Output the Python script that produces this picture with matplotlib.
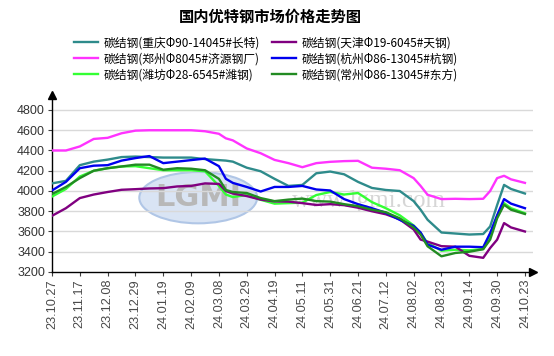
import matplotlib.pyplot as plt
from matplotlib.patches import Ellipse

plt.rcParams['font.family'] = ['Noto Sans CJK SC', 'DejaVu Sans']

# 数据 (x: 以刻度间隔为单位的位置)
x = [0, 0.5, 1, 1.5, 2, 2.5, 3, 3.5, 4, 4.5, 5, 5.5, 6, 6.25, 6.5, 7, 7.5, 8, 8.5, 9,
     9.5, 10, 10.5, 11, 11.5, 12, 12.5, 13, 13.25, 13.5, 14, 14.5, 15, 15.5, 15.75,
     16, 16.25, 16.5, 17]
date_labels = ['23.10.27', '23.11.17', '23.12.08', '23.12.29', '24.01.19', '24.02.09',
               '24.03.08', '24.03.29', '24.04.19', '24.05.11', '24.05.31', '24.06.21',
               '24.07.12', '24.08.02', '24.08.23', '24.09.14', '24.09.30', '24.10.23']

chongqing = [4075, 4100, 4255, 4290, 4310, 4335, 4340, 4335, 4330, 4330, 4330, 4315, 4305,
             4300, 4290, 4230, 4195, 4120, 4050, 4060, 4175, 4192, 4165, 4090, 4030, 4010,
             4000, 3900, 3815, 3716, 3590, 3580, 3570, 3575, 3650, 3860, 4060, 4020, 3975]
zhengzhou = [4400, 4400, 4440, 4514, 4525, 4570, 4596, 4600, 4600, 4600, 4600, 4590, 4565,
             4520, 4500, 4420, 4373, 4307, 4275, 4235, 4275, 4288, 4295, 4298, 4230, 4220,
             4205, 4127, 4050, 3963, 3920, 3923, 3920, 3923, 4000, 4127, 4150, 4115, 4080]
weifang = [3945, 4020, 4143, 4200, 4225, 4242, 4245, 4225, 4205, 4205, 4205, 4195, 4050,
           3965, 3940, 3960, 3913, 3875, 3880, 3885, 3960, 3990, 3965, 3980, 3890, 3830,
           3760, 3660, 3585, 3486, 3410, 3420, 3414, 3427, 3552, 3749, 3880, 3830, 3780]
tianjin = [3755, 3830, 3930, 3965, 3990, 4012, 4018, 4025, 4028, 4045, 4050, 4075, 4070,
           4000, 3975, 3950, 3915, 3897, 3895, 3880, 3862, 3870, 3860, 3835, 3800, 3770,
           3720, 3620, 3520, 3500, 3455, 3450, 3360, 3340, 3437, 3519, 3683, 3640, 3600]
hangzhou = [4005, 4090, 4225, 4250, 4255, 4300, 4325, 4345, 4275, 4290, 4305, 4320, 4245,
            4120, 4080, 4040, 3995, 4040, 4040, 4050, 4015, 4005, 3920, 3870, 3830, 3785,
            3715, 3655, 3590, 3470, 3420, 3450, 3450, 3445, 3585, 3760, 3920, 3875, 3830]
changzhou = [3970, 4040, 4127, 4200, 4225, 4242, 4260, 4260, 4210, 4225, 4220, 4205, 4120,
             4010, 3990, 3980, 3930, 3900, 3915, 3925, 3900, 3895, 3870, 3850, 3815, 3790,
             3730, 3640, 3570, 3454, 3355, 3388, 3400, 3425, 3520, 3730, 3864, 3815, 3773]

series = [
    (chongqing, '碳结钢(重庆Φ90-14045#长特)', '#2e8b8b'),
    (zhengzhou, '碳结钢(郑州Φ8045#济源钢厂)', '#ff33ff'),
    (weifang, '碳结钢(潍坊Φ28-6545#潍钢)', '#33ff33'),
    (tianjin, '碳结钢(天津Φ19-6045#天钢)', '#800080'),
    (hangzhou, '碳结钢(杭州Φ86-13045#杭钢)', '#0000ee'),
    (changzhou, '碳结钢(常州Φ86-13045#东方)', '#228b22'),
]

fig = plt.figure(figsize=(5.54, 3.56), dpi=100)
ax = fig.add_axes([52 / 554, 1 - 272 / 356, 481 / 554, 177 / 356])

# 水印
ax.add_patch(Ellipse((0.304, 0.42), 0.245, 0.29, transform=ax.transAxes,
                     facecolor='#d9e4f4', edgecolor='#b0c6e6', lw=1.5, zorder=0))
ax.text(0.304, 0.42, 'LGMI', transform=ax.transAxes, ha='center', va='center',
        fontsize=22, fontweight='bold', color='#b8b8b8', family='DejaVu Sans', zorder=0)
ax.text(0.66, 0.40, 'www.lgmi.com', transform=ax.transAxes, ha='center', va='center',
        fontsize=18, color='#d6d6d6', family='Liberation Serif', zorder=0)

handles = []
for vals, name, c in series:
    h, = ax.plot(x, vals, color=c, lw=1.7, label=name, zorder=3)
    handles.append(h)

ax.set_xlim(0, 17.29)
ax.set_ylim(3200, 4948)
ax.set_yticks(range(3200, 4801, 200))
ax.set_xticks(range(len(date_labels)))
ax.set_xticklabels(date_labels, rotation=90, fontsize=9.2, color='#4a4a4a',
                   family='Liberation Sans')
for lab in ax.get_yticklabels():
    lab.set_fontsize(9)
    lab.set_color('#333333')
    lab.set_family('Liberation Sans')
ax.tick_params(length=3, width=0.8, color='#404040', pad=2)

for yv in range(3400, 4801, 200):
    ax.axhline(yv, color='#d9d9d9', lw=1, zorder=1)

for s in ['top', 'right']:
    ax.spines[s].set_visible(False)
for s in ['left', 'bottom']:
    ax.spines[s].set_color('black')
    ax.spines[s].set_linewidth(1)
ax.plot(0, 1, marker='^', color='black', ms=6, transform=ax.transAxes, clip_on=False)
ax.plot(1, 0, marker='>', color='black', ms=6, transform=ax.transAxes, clip_on=False)

fig.text(270 / 554, 1 - 17 / 356, '国内优特钢市场价格走势图', ha='center', va='center',
         fontsize=11, fontweight='bold')
fig.legend(handles, [s[1] for s in series], ncol=2, loc='center',
           bbox_to_anchor=(266 / 554, 1 - 59 / 356), frameon=False, fontsize=8.5,
           handlelength=2.0, columnspacing=1.0, labelspacing=0.25, handletextpad=0.5)

plt.savefig('out.png', dpi=100)
